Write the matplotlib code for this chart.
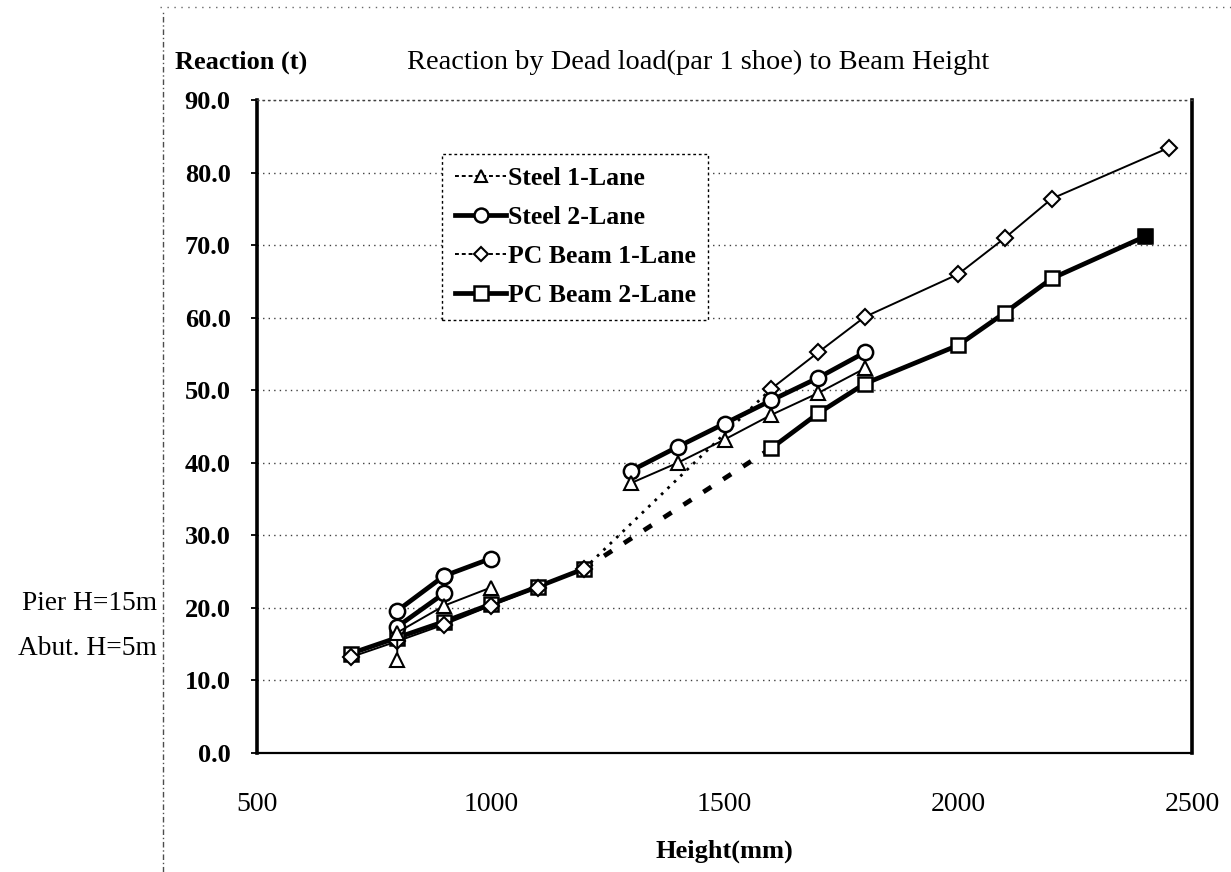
import numpy as np
import matplotlib
matplotlib.use("Agg")
import matplotlib.pyplot as plt
from matplotlib.lines import Line2D

plt.rcParams['font.family'] = ['Liberation Serif', 'DejaVu Serif']

nan = np.nan

# Steel girders (values in tonnes per shoe)
steel1_x = [800, 800, 900, 1000, nan, 1300, 1400, 1500, 1600, 1700, 1800]
steel1_y = [12.8, 16.6, 20.3, 22.8, nan, 37.2, 40.0, 43.2, 46.6, 49.6, 53.0]

steel2_x = [1000, 900, 900, 800, 800, 900, nan, 1300, 1400, 1500, 1600, 1700, 1800]
steel2_y = [26.8, 24.4, 22.0, 17.4, 19.6, 24.4, nan, 38.9, 42.2, 45.4, 48.6, 51.7, 55.2]

# PC beams: short-span range and long-span range
pc1_near_x = [700, 800, 900, 1000, 1100, 1200]
pc1_near_y = [13.2, 15.4, 17.7, 20.3, 22.8, 25.4]
pc1_far_x = [1600, 1700, 1800, 2000, 2100, 2200, 2450]
pc1_far_y = [50.2, 55.2, 60.1, 66.0, 71.0, 76.4, 83.4]

pc2_near_x = [700, 800, 900, 1000, 1100, 1200]
pc2_near_y = [13.7, 15.9, 18.1, 20.5, 22.9, 25.4]
pc2_far_x = [1600, 1700, 1800, 2000, 2100, 2200, 2400]
pc2_far_y = [42.0, 46.8, 50.9, 56.2, 60.7, 65.4, 71.2]

labels = ["Steel 1-Lane", "Steel 2-Lane", "PC Beam 1-Lane", "PC Beam 2-Lane"]
x_ticks = [500, 1000, 1500, 2000, 2500]
y_ticks = [0, 10, 20, 30, 40, 50, 60, 70, 80, 90]

fig = plt.figure(figsize=(12.31, 8.72), dpi=100)
ax = fig.add_axes([257 / 1231, 1 - 753 / 872, 935 / 1231, 653 / 872])

thin = dict(color='black', lw=1.4, mfc='white', mec='black', mew=1.5)
thick = dict(color='black', lw=3.4, mfc='white', mec='black', mew=1.8)

# dashed links between the short- and long-span PC ranges
ax.plot([pc1_near_x[-1], pc1_far_x[0]], [pc1_near_y[-1], pc1_far_y[0]],
        color='black', lw=2.0, ls=(0, (1, 2.2)), zorder=2)
ax.plot([pc2_near_x[-1], pc2_far_x[0]], [pc2_near_y[-1], pc2_far_y[0]],
        color='black', lw=3.4, ls=(0, (2, 3)), zorder=2)

ax.plot(pc2_near_x, pc2_near_y, marker='s', ms=10, zorder=3, **thick)
ax.plot(pc2_far_x, pc2_far_y, marker='s', ms=10, zorder=3, **thick)
ax.plot(pc2_far_x[-1:], pc2_far_y[-1:], marker='s', ms=10, ls='none',
        mfc='black', mec='black', zorder=6)
ax.plot(pc1_near_x, pc1_near_y, marker='D', ms=8, zorder=4, **thin)
ax.plot(pc1_far_x, pc1_far_y, marker='D', ms=8, zorder=4, **thin)
ax.plot(steel2_x, steel2_y, marker='o', ms=11, zorder=4, **thick)
ax.plot(steel1_x, steel1_y, marker='^', ms=10, zorder=5, **thin)

ax.set_xlim(500, 2500)
ax.set_ylim(0, 90)
ax.set_xticks(x_ticks)
ax.set_yticks(y_ticks)
ax.set_yticklabels([f"{v:.1f}" for v in y_ticks], fontweight='bold')
ax.tick_params(axis='y', labelsize=19, length=4, width=1.3, pad=15)
ax.tick_params(axis='x', labelsize=20, length=0, pad=28)

ax.yaxis.grid(True, ls=(0, (1, 3)), color='0.25', lw=1)
ax.set_axisbelow(True)

for side in ('left', 'right'):
    ax.spines[side].set_linewidth(2.6)
ax.spines['bottom'].set_linewidth(1.6)
ax.spines['top'].set_linestyle((0, (1, 3)))
ax.spines['top'].set_color('0.25')
ax.spines['top'].set_linewidth(1)

ax.set_xlabel("Height(mm)", fontsize=19, fontweight='bold', labelpad=16)

handles = [
    Line2D([], [], marker='^', ms=9, ls=(0, (2, 1.5)), **thin),
    Line2D([], [], marker='o', ms=10, **thick),
    Line2D([], [], marker='D', ms=7, ls=(0, (2, 1.5)), **thin),
    Line2D([], [], marker='s', ms=10, **thick),
]
leg = ax.legend(handles, labels, loc='upper left', bbox_to_anchor=(0.198, 0.917),
                borderaxespad=0, fancybox=False, framealpha=1, edgecolor='black',
                prop={'size': 18.5, 'weight': 'bold'}, handlelength=2.0,
                handletextpad=0.05, labelspacing=0.62, borderpad=0.5)
leg.get_frame().set_linestyle((0, (2, 2)))
leg.get_frame().set_linewidth(1.0)

fig.text(241 / 1231, 1 - 62 / 872, "Reaction (t)", ha='center', va='center',
         fontsize=19, fontweight='bold')
fig.text(698 / 1231, 1 - 62 / 872, "Reaction by Dead load(par 1 shoe) to Beam Height",
         ha='center', va='center', fontsize=20.4)
fig.text(157 / 1231, 1 - 604 / 872, "Pier H=15m", ha='right', va='center', fontsize=19.7)
fig.text(157 / 1231, 1 - 648 / 872, "Abut. H=5m", ha='right', va='center', fontsize=19.7)

# outer chart-area border
fig.add_artist(Line2D([163 / 1231, 163 / 1231], [0, 1 - 10 / 872], transform=fig.transFigure,
                      color='0.3', lw=1, ls=(0, (4, 2, 1, 2))))
fig.add_artist(Line2D([160 / 1231, 1], [1 - 7 / 872, 1 - 7 / 872], transform=fig.transFigure,
                      color='0.4', lw=1, ls=(0, (1, 4))))

fig.savefig("out.png", dpi=100)
